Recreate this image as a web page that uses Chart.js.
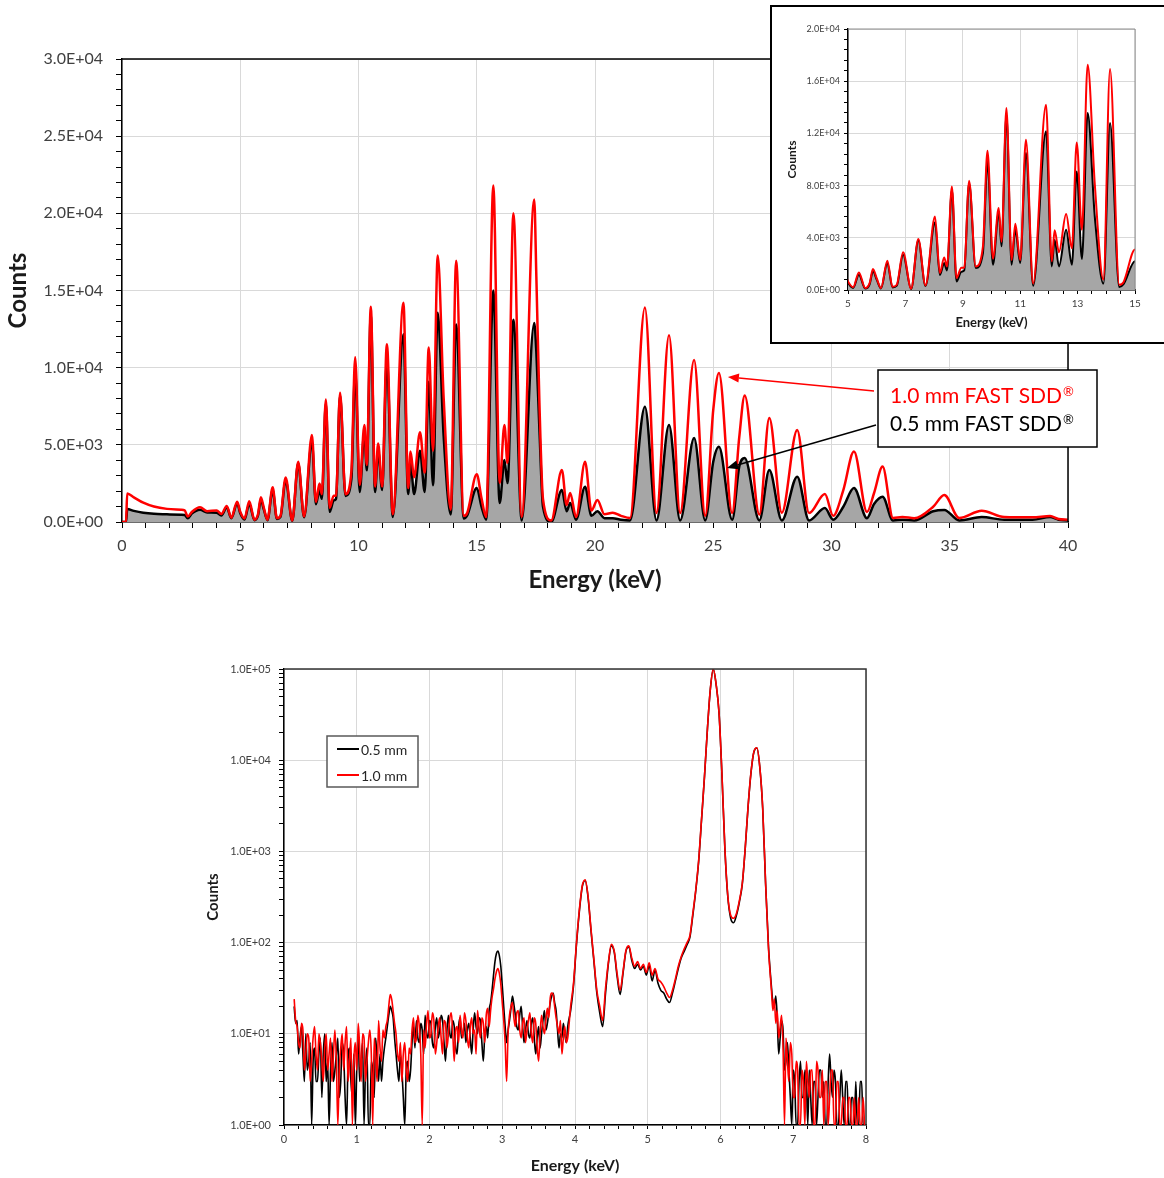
<!DOCTYPE html>
<html>
<head>
<meta charset="utf-8">
<title>FAST SDD spectra</title>
<script src="https://cdn.jsdelivr.net/npm/chart.js@4.4.1/dist/chart.umd.min.js"></script>
<style>
    body { margin: 0; width: 1164px; height: 1178px; overflow: hidden; background: #fff; }
    #mainWrap { position: absolute; left: 0; top: 0; }
    #insetWrap { position: absolute; left: 770px; top: 5px; border: 2px solid #000; background: #fff; }
    #logWrap { position: absolute; left: 0; top: 620px; }
    canvas { display: block; }
</style>
</head>
<body>
<div id="mainWrap"><canvas id="mainChart" width="1164" height="600"></canvas></div>
<div id="insetWrap"><canvas id="insetChart" width="400" height="335"></canvas></div>
<div id="logWrap"><canvas id="logChart" width="1164" height="558"></canvas></div>

<script>
// Spectrum 0-40 keV (linear plot and 5-15 keV inset)
const mainEnergy = [
    0, 0.17, 0.22, 0.5, 0.9, 1.35, 1.9, 2.5, 2.65, 2.78,
    2.95, 3.3, 3.6, 4.0, 4.2, 4.43, 4.62, 4.87, 5.0, 5.18,
    5.38, 5.6, 5.75, 5.87, 6.0, 6.15, 6.37, 6.55, 6.7, 6.92,
    7.2, 7.45, 7.7, 8.03, 8.2, 8.35, 8.45, 8.62, 8.78, 8.95,
    9.05, 9.22, 9.45, 9.7, 9.86, 10.05, 10.25, 10.35, 10.52, 10.7,
    10.83, 11.0, 11.2, 11.45, 11.9, 12.1, 12.2, 12.35, 12.6, 12.8,
    12.97, 13.15, 13.35, 13.6, 13.9, 14.13, 14.45, 14.6, 15.0, 15.2,
    15.4, 15.7, 15.97, 16.17, 16.3, 16.55, 16.9, 17.43, 17.52, 17.65,
    17.8, 18.15, 18.6, 18.8, 18.95, 19.2, 19.58, 19.85, 20.1, 20.4,
    20.75, 21.1, 21.48, 22.11, 22.6, 23.13, 23.6, 24.19, 24.66, 25.0,
    25.24, 25.8, 26.1, 26.33, 26.95, 27.37, 27.9, 28.55, 29.05, 29.72,
    30.07, 30.5, 30.95, 31.5, 31.8, 32.16, 32.6, 33.0, 33.5, 34.3,
    34.77, 35.4, 36.35, 37.3, 38.5, 39.24, 39.6, 40.0
];
const counts1mm = [
    0, 0, 1850, 1600, 1250, 1000, 850, 800, 760, 350,
    650, 960, 700, 750, 520, 1040, 280, 1320, 660, 220,
    1350, 150, 500, 1610, 900, 150, 2250, 250, 400, 2890,
    100, 3900, 350, 5640, 1300, 2500, 1800, 7940, 920, 1700,
    1700, 8380, 1800, 3300, 10680, 2400, 6280, 3700, 13950, 2300,
    5080, 2300, 11520, 500, 14200, 2200, 4570, 2900, 5820, 3200,
    11300, 4620, 17270, 8070, 800, 16930, 400, 600, 3100, 1550,
    320, 21800, 2520, 6290, 3820, 20000, 320, 20900, 15900, 7700,
    1500, 100, 3370, 1100, 1880, 320, 3910, 740, 1430, 500,
    600, 400, 260, 13900, 580, 12100, 580, 10500, 400, 7260,
    9660, 580, 5500, 8200, 480, 6740, 600, 5960, 580, 1810,
    400, 2070, 4560, 650, 1880, 3590, 260, 320, 250, 990,
    1750, 260, 730, 320, 300, 390, 200, 150
];
const counts05mm = [
    0, 0, 840, 720, 600, 530, 500, 470, 450, 240,
    550, 800, 620, 600, 420, 950, 250, 1200, 560, 160,
    1170, 120, 420, 1430, 800, 120, 2070, 200, 330, 2700,
    80, 3800, 300, 5190, 1150, 2070, 1500, 7690, 660, 1400,
    1500, 8200, 1690, 2800, 9860, 1940, 5900, 3350, 13440, 1940,
    4620, 2070, 10500, 330, 12160, 1810, 3860, 1810, 4620, 1940,
    9090, 2380, 13560, 5590, 490, 12800, 230, 450, 2200, 1000,
    150, 15000, 1230, 4020, 2520, 13100, 100, 12900, 11000, 6000,
    1000, 0, 2070, 700, 1230, 150, 2290, 400, 700, 250,
    250, 150, 100, 7470, 100, 6290, 100, 5440, 100, 3910,
    4880, 150, 3590, 4150, 100, 3370, 100, 2940, 100, 900,
    150, 990, 2200, 250, 1170, 1640, 100, 150, 100, 700,
    780, 100, 320, 150, 150, 320, 150, 100
];
const mainLabels = ['1.0 mm FAST SDD', '0.5 mm FAST SDD'];

// Low-energy spectrum 0-8 keV (log plot)
const logEnergy = [
    0.14, 0.16, 0.18, 0.20, 0.22, 0.24, 0.26, 0.28, 0.30, 0.32,
    0.34, 0.36, 0.38, 0.40, 0.42, 0.44, 0.46, 0.48, 0.50, 0.52,
    0.54, 0.56, 0.58, 0.60, 0.62, 0.64, 0.66, 0.68, 0.70, 0.72,
    0.74, 0.76, 0.78, 0.80, 0.82, 0.84, 0.86, 0.88, 0.90, 0.92,
    0.94, 0.96, 0.98, 1.00, 1.02, 1.04, 1.06, 1.08, 1.10, 1.12,
    1.14, 1.16, 1.18, 1.20, 1.22, 1.24, 1.26, 1.28, 1.30, 1.32,
    1.34, 1.36, 1.38, 1.40, 1.42, 1.44, 1.46, 1.48, 1.50, 1.52,
    1.54, 1.56, 1.58, 1.60, 1.62, 1.64, 1.66, 1.68, 1.70, 1.72,
    1.74, 1.76, 1.78, 1.80, 1.82, 1.84, 1.86, 1.88, 1.90, 1.92,
    1.94, 1.96, 1.98, 2.00, 2.02, 2.04, 2.06, 2.08, 2.10, 2.12,
    2.14, 2.16, 2.18, 2.20, 2.22, 2.24, 2.26, 2.28, 2.30, 2.32,
    2.34, 2.36, 2.38, 2.40, 2.42, 2.44, 2.46, 2.48, 2.50, 2.52,
    2.54, 2.56, 2.58, 2.60, 2.62, 2.64, 2.66, 2.68, 2.70, 2.72,
    2.74, 2.76, 2.78, 2.80, 2.82, 2.84, 2.86, 2.88, 2.90, 2.92,
    2.94, 2.96, 2.98, 3.00, 3.02, 3.04, 3.06, 3.08, 3.10, 3.12,
    3.14, 3.16, 3.18, 3.20, 3.22, 3.24, 3.26, 3.28, 3.30, 3.32,
    3.34, 3.36, 3.38, 3.40, 3.42, 3.44, 3.46, 3.48, 3.50, 3.52,
    3.54, 3.56, 3.58, 3.60, 3.62, 3.64, 3.66, 3.68, 3.70, 3.72,
    3.74, 3.76, 3.78, 3.80, 3.82, 3.84, 3.86, 3.88, 3.90,
    3.94, 3.98, 4.02, 4.06, 4.10,
    4.14, 4.18, 4.22, 4.26, 4.30, 4.34, 4.38, 4.42, 4.46, 4.50,
    4.54, 4.58, 4.62, 4.66, 4.70, 4.74, 4.78, 4.82, 4.86, 4.90,
    4.94, 4.98, 5.02, 5.06, 5.10, 5.14, 5.18, 5.22, 5.26, 5.30,
    5.34, 5.38, 5.42, 5.46, 5.50, 5.54, 5.58, 5.62, 5.66, 5.70,
    5.74, 5.78, 5.82, 5.86, 5.90, 5.94, 5.98, 6.02, 6.06, 6.10,
    6.14, 6.18, 6.22, 6.26, 6.30, 6.34, 6.38, 6.42, 6.46, 6.50,
    6.54, 6.58, 6.62, 6.66,
    6.70, 6.72, 6.74, 6.76, 6.78, 6.80, 6.82, 6.84, 6.86, 6.88,
    6.90, 6.92, 6.94, 6.96, 6.98, 7.00, 7.02, 7.04, 7.06, 7.08,
    7.10, 7.12, 7.14, 7.16, 7.18, 7.20, 7.22, 7.24, 7.26, 7.28,
    7.30, 7.32, 7.34, 7.36, 7.38, 7.40, 7.42, 7.44, 7.46, 7.48,
    7.50, 7.52, 7.54, 7.56, 7.58, 7.60, 7.62, 7.64, 7.66, 7.68,
    7.70, 7.72, 7.74, 7.76, 7.78, 7.80, 7.82, 7.84, 7.86, 7.88,
    7.90, 7.92, 7.94, 7.96, 7.98
];
const log1mm = [
    24, 14, 12, 8, 7, 13, 11, 4, 6, 10,
    9, 3, 5, 9, 12, 6, 4, 10, 8, 5,
    3, 7, 10, 4, 6, 9, 3, 6, 11, 5,
    1, 4, 7, 10, 4, 8, 12, 3, 5, 9,
    1, 5, 8, 4, 13, 7, 3, 10, 9, 3,
    5, 8, 11, 6, 1, 9, 6, 3, 14, 7,
    5, 11, 9, 12, 14, 20, 27, 24, 18, 13,
    10, 6, 5, 8, 3, 6, 8, 4, 3, 7,
    6, 11, 15, 8, 9, 16, 12, 6, 1, 11,
    7, 13, 18, 9, 10, 17, 14, 6, 8, 12,
    15, 9, 6, 14, 13, 7, 10, 15, 17, 10,
    5, 11, 12, 8, 16, 11, 9, 17, 14, 9,
    7, 12, 15, 10, 11, 6, 18, 12, 9, 15,
    13, 8, 16, 19, 12, 18, 25, 31, 40, 48,
    52, 46, 35, 22, 14, 8, 3, 10, 16, 20,
    22, 15, 12, 17, 18, 11, 9, 13, 15, 8,
    11, 14, 17, 10, 8, 15, 13, 7, 5, 10,
    16, 12, 10, 14, 19, 15, 25, 28, 27, 20,
    15, 12, 10, 14, 6, 9, 12, 8, 9,
    20, 36, 99, 230, 420,
    487, 320, 140, 65, 30, 20, 14, 32, 62, 96,
    80, 45, 30, 48, 82, 92, 68, 55, 62, 52,
    58, 47, 60, 44, 52, 40, 37, 33, 28, 25,
    30, 40, 55, 70, 85, 100, 120, 210, 380, 800,
    2300, 6700, 22000, 60000, 100000, 68000, 33000, 7000, 1100, 330,
    200, 185, 210, 290, 450, 1100, 3200, 7500, 12500, 13700,
    8500, 3000, 450, 85,
    30, 18, 24, 13, 18, 9, 12, 16, 7, 1,
    9, 5, 3, 8, 6, 2, 2, 5, 4, 1,
    1, 4, 3, 1, 5, 3, 2, 4, 4, 1,
    1, 5, 4, 2, 2, 4, 1, 3, 3, 1,
    2, 4, 4, 1, 1, 3, 3, 1, 1, 2,
    2, 1, 1, 2, 2, 1, 1, 2, 1, 1,
    2, 1, 1, 2, 1
];
const log05mm = [
    20, 13, 14, 6, 9, 12, 6, 3, 10, 4,
    5, 8, 1, 5, 7, 3, 3, 6, 9, 2,
    6, 10, 3, 5, 1, 4, 8, 3, 4, 6,
    9, 2, 3, 8, 6, 2, 1, 5, 7, 3,
    2, 6, 1, 4, 10, 3, 5, 8, 1, 4,
    7, 1, 1, 5, 4, 2, 9, 5, 3, 6,
    3, 5, 7, 9, 12, 16, 20, 18, 15, 9,
    6, 4, 3, 6, 4, 2, 1, 4, 5, 3,
    4, 8, 12, 7, 14, 9, 8, 13, 11, 6,
    16, 10, 9, 14, 13, 8, 7, 12, 15, 9,
    11, 16, 14, 8, 5, 11, 16, 10, 9, 14,
    12, 7, 6, 12, 15, 9, 10, 13, 8, 11,
    13, 9, 6, 11, 17, 12, 10, 15, 14, 8,
    5, 10, 12, 9, 18, 22, 30, 44, 62, 76,
    81, 72, 55, 34, 20, 12, 8, 11, 14, 19,
    26, 21, 16, 12, 11, 16, 20, 12, 8, 11,
    14, 10, 9, 13, 15, 9, 6, 9, 12, 7,
    10, 14, 18, 11, 13, 17, 22, 26, 28, 22,
    18, 11, 7, 10, 9, 13, 10, 8, 12,
    18, 34, 95, 220, 410,
    480, 310, 135, 62, 28, 17, 12, 28, 60, 92,
    78, 42, 27, 46, 80, 90, 64, 52, 58, 50,
    55, 44, 56, 38, 50, 36, 30, 28, 24, 22,
    28, 38, 52, 68, 80, 95, 115, 200, 370, 780,
    2250, 6600, 21800, 59500, 99500, 67500, 32800, 6900, 1080, 320,
    185, 165, 200, 280, 440, 1080, 3150, 7400, 12400, 13600,
    8400, 2950, 440, 90,
    33, 22, 20, 26, 15, 6, 9, 14, 11, 4,
    5, 8, 4, 2, 1, 4, 3, 1, 1, 3,
    5, 2, 2, 4, 3, 1, 4, 2, 1, 3,
    3, 1, 2, 4, 4, 2, 3, 1, 1, 3,
    6, 3, 2, 4, 3, 1, 1, 2, 4, 2,
    1, 3, 3, 1, 1, 2, 2, 1, 3, 1,
    1, 3, 3, 1, 1
];
const logLabels = ['1.0 mm', '0.5 mm'];

const RED = '#ff0000';
const BLACK = '#000000';
const FILL = '#a6a6a6';
const GRID = '#d9d9d9';
const TICK_TEXT = '#404040';
const TITLE_TEXT = '#1a1a1a';

Chart.defaults.font.family = 'Lato, "Open Sans", sans-serif';
Chart.defaults.animation = false;

const pts = (xs, ys) => xs.map((x, i) => ({ x, y: ys[i] }));
const isMult = (v, m) => Math.abs(v / m - Math.round(v / m)) < 1e-6;
const isPow10 = v => Math.abs(Math.log10(v) - Math.round(Math.log10(v))) < 1e-6;

// "3.0E+04" style labels
const sci = v => {
    if (v === 0) return '0.0E+00';
    const e = Math.floor(Math.log10(v) + 1e-9);
    const m = v / Math.pow(10, e);
    return m.toFixed(1) + 'E' + (e < 0 ? '-' : '+') + String(Math.abs(e)).padStart(2, '0');
};

const stepTicks = (min, max, step) => {
    const out = [];
    for (let v = min; v <= max + 1e-9; v += step) out.push({ value: Math.round(v * 1000) / 1000 });
    return out;
};

const logTicks = (min, max) => {
    const out = [];
    for (let p = min; p < max; p *= 10) {
        for (let k = 1; k < 10; k++) out.push({ value: p * k });
    }
    out.push({ value: max });
    return out;
};

// top and right border of the plot area
const framePlugin = {
    id: 'frame',
    afterDraw(chart, args, opts) {
        const { ctx, chartArea: a } = chart;
        ctx.save();
        ctx.strokeStyle = opts.color;
        ctx.lineWidth = opts.width;
        ctx.beginPath();
        ctx.moveTo(a.left, a.top);
        ctx.lineTo(a.right, a.top);
        ctx.lineTo(a.right, a.bottom);
        ctx.stroke();
        ctx.restore();
    }
};

const drawArrow = (ctx, x0, y0, x1, y1, color) => {
    const ang = Math.atan2(y1 - y0, x1 - x0);
    const len = 11, half = 4.5;
    ctx.strokeStyle = color;
    ctx.fillStyle = color;
    ctx.lineWidth = 1.5;
    ctx.beginPath();
    ctx.moveTo(x0, y0);
    ctx.lineTo(x1 - Math.cos(ang) * len, y1 - Math.sin(ang) * len);
    ctx.stroke();
    ctx.beginPath();
    ctx.moveTo(x1, y1);
    ctx.lineTo(x1 - Math.cos(ang) * len - Math.sin(ang) * half, y1 - Math.sin(ang) * len + Math.cos(ang) * half);
    ctx.lineTo(x1 - Math.cos(ang) * len + Math.sin(ang) * half, y1 - Math.sin(ang) * len - Math.cos(ang) * half);
    ctx.closePath();
    ctx.fill();
};

// boxed labels with arrows pointing at the 25 keV peaks
const calloutPlugin = {
    id: 'callout',
    afterDraw(chart, args, o) {
        const { ctx, scales: { x, y } } = chart;
        ctx.save();
        o.items.forEach(it => {
            const ds = chart.data.datasets[it.dataset];
            drawArrow(ctx, it.from[0], it.from[1], x.getPixelForValue(it.at[0]), y.getPixelForValue(it.at[1]), ds.borderColor);
        });
        ctx.fillStyle = '#fff';
        ctx.fillRect(o.box.x, o.box.y, o.box.w, o.box.h);
        ctx.strokeStyle = '#000';
        ctx.lineWidth = 1.5;
        ctx.strokeRect(o.box.x, o.box.y, o.box.w, o.box.h);
        ctx.textBaseline = 'alphabetic';
        ctx.textAlign = 'left';
        o.items.forEach(it => {
            const ds = chart.data.datasets[it.dataset];
            ctx.fillStyle = ds.borderColor;
            ctx.font = '21px Lato, sans-serif';
            ctx.fillText(ds.label, o.textX, it.baseline);
            const w = ctx.measureText(ds.label).width;
            ctx.font = '13px Lato, sans-serif';
            ctx.fillText('\u00AE', o.textX + w + 1, it.baseline - 7);
        });
        ctx.restore();
    }
};

// legend box inside the log plot
const boxLegendPlugin = {
    id: 'boxLegend',
    afterDraw(chart, args, o) {
        const { ctx } = chart;
        ctx.save();
        ctx.fillStyle = '#fff';
        ctx.fillRect(o.x, o.y, o.w, o.h);
        ctx.strokeStyle = '#595959';
        ctx.lineWidth = 1.5;
        ctx.strokeRect(o.x, o.y, o.w, o.h);
        ctx.font = '14px Lato, sans-serif';
        ctx.textBaseline = 'middle';
        o.order.forEach((idx, row) => {
            const ds = chart.data.datasets[idx];
            const ly = o.y + o.rowY[row];
            ctx.strokeStyle = ds.borderColor;
            ctx.lineWidth = 2;
            ctx.beginPath();
            ctx.moveTo(o.x + 10, ly);
            ctx.lineTo(o.x + 32, ly);
            ctx.stroke();
            ctx.fillStyle = '#262626';
            ctx.fillText(ds.label, o.x + 34, ly + 1);
        });
        ctx.restore();
    }
};

const tickFont = size => ({ size });
const titleFont = size => ({ size, weight: 'bold' });

const linearAxis = ({ min, max, step, major, grid, label, fit, fitKey, tickSize, tickLen, pad, title }) => ({
    type: 'linear',
    min, max,
    afterBuildTicks: s => { s.ticks = stepTicks(min, max, step); },
    afterFit: s => { s[fitKey] = fit; },
    ticks: {
        autoSkip: false, maxRotation: 0, padding: pad, color: TICK_TEXT, font: tickFont(tickSize),
        callback: v => (major(v) ? label(v) : '')
    },
    grid: {
        color: c => (c.tick && grid(c.tick.value) ? GRID : 'rgba(0,0,0,0)'),
        tickColor: '#000', tickLength: tickLen, lineWidth: 1
    },
    border: { color: '#000', width: 1.5 },
    title
});

const spectrumSets = (width) => [
    {
        label: mainLabels[0], data: pts(mainEnergy, counts1mm),
        borderColor: RED, borderWidth: width, pointRadius: 0, fill: false,
        cubicInterpolationMode: 'monotone'
    },
    {
        label: mainLabels[1], data: pts(mainEnergy, counts05mm),
        borderColor: BLACK, backgroundColor: FILL, borderWidth: width, pointRadius: 0, fill: 'origin',
        cubicInterpolationMode: 'monotone'
    }
];

// main 0-40 keV chart
new Chart(document.getElementById('mainChart'), {
    type: 'line',
    data: { datasets: spectrumSets(2.5) },
    options: {
        responsive: false,
        layout: { padding: { left: 0, top: 59, right: 96, bottom: 0 } },
        plugins: {
            legend: { display: false },
            tooltip: { enabled: false },
            frame: { color: '#000', width: 1.5 },
            callout: {
                box: { x: 878, y: 370, w: 219, h: 77 },
                textX: 890,
                items: [
                    { dataset: 0, baseline: 403, from: [874, 391], at: [25.62, 9400] },
                    { dataset: 1, baseline: 431, from: [876, 425], at: [25.58, 3500] }
                ]
            }
        },
        scales: {
            x: linearAxis({
                min: 0, max: 40, step: 1, major: v => isMult(v, 5), grid: v => isMult(v, 5),
                label: v => String(v), fit: 78, fitKey: 'height', tickSize: 16, tickLen: 6, pad: 8,
                title: { display: true, text: 'Energy (keV)', color: TITLE_TEXT, font: titleFont(24), padding: { top: 0, bottom: 5 } }
            }),
            y: linearAxis({
                min: 0, max: 30000, step: 1000, major: v => isMult(v, 5000), grid: v => isMult(v, 5000),
                label: sci, fit: 122, fitKey: 'width', tickSize: 16, tickLen: 6, pad: 13,
                title: { display: true, text: 'Counts', color: TITLE_TEXT, font: titleFont(24), padding: { top: 4, bottom: 0 } }
            })
        }
    },
    plugins: [framePlugin, calloutPlugin]
});

// inset 5-15 keV
new Chart(document.getElementById('insetChart'), {
    type: 'line',
    data: { datasets: spectrumSets(2) },
    options: {
        responsive: false,
        layout: { padding: { left: 0, top: 22, right: 37, bottom: 0 } },
        plugins: {
            legend: { display: false },
            tooltip: { enabled: false },
            frame: { color: '#8c8c8c', width: 1 }
        },
        scales: {
            x: linearAxis({
                min: 5, max: 15, step: 0.5, major: v => isMult(v - 5, 2), grid: v => isMult(v - 5, 2),
                label: v => String(v), fit: 52, fitKey: 'height', tickSize: 10, tickLen: 4, pad: 4,
                title: { display: true, text: 'Energy (keV)', color: TITLE_TEXT, font: titleFont(13), padding: { top: 0, bottom: 11 } }
            }),
            y: linearAxis({
                min: 0, max: 20000, step: 800, major: v => isMult(v, 4000), grid: v => isMult(v, 4000),
                label: sci, fit: 76, fitKey: 'width', tickSize: 9, tickLen: 4, pad: 4,
                title: { display: true, text: 'Counts', color: TITLE_TEXT, font: titleFont(12), padding: { top: 13, bottom: 0 } }
            })
        }
    },
    plugins: [framePlugin]
});

// log plot 0-8 keV
new Chart(document.getElementById('logChart'), {
    type: 'line',
    data: {
        datasets: [
            {
                label: logLabels[0], data: pts(logEnergy, log1mm),
                borderColor: RED, borderWidth: 1.6, pointRadius: 0, fill: false, cubicInterpolationMode: 'monotone'
            },
            {
                label: logLabels[1], data: pts(logEnergy, log05mm),
                borderColor: BLACK, borderWidth: 1.6, pointRadius: 0, fill: false, cubicInterpolationMode: 'monotone'
            }
        ]
    },
    options: {
        responsive: false,
        layout: { padding: { left: 195, top: 49, right: 298, bottom: 0 } },
        plugins: {
            legend: { display: false },
            tooltip: { enabled: false },
            frame: { color: '#333', width: 1.5 },
            boxLegend: { x: 327, y: 116, w: 91, h: 51, order: [1, 0], rowY: [13, 39] }
        },
        scales: {
            x: linearAxis({
                min: 0, max: 8, step: 0.2, major: v => isMult(v, 1), grid: v => isMult(v, 1),
                label: v => String(v), fit: 53, fitKey: 'height', tickSize: 11, tickLen: 4, pad: 4,
                title: { display: true, text: 'Energy (keV)', color: TITLE_TEXT, font: titleFont(16), padding: { top: 0, bottom: 3 } }
            }),
            y: {
                type: 'logarithmic',
                min: 1, max: 100000,
                afterBuildTicks: s => { s.ticks = logTicks(1, 100000); },
                afterFit: s => { s.width = 89; },
                ticks: {
                    autoSkip: false, padding: 8, color: TICK_TEXT, font: tickFont(11),
                    callback: v => (isPow10(v) ? sci(v) : '')
                },
                grid: {
                    color: c => (c.tick && isPow10(c.tick.value) ? GRID : 'rgba(0,0,0,0)'),
                    tickColor: '#000', tickLength: 5
                },
                border: { color: '#000', width: 1.5 },
                title: { display: true, text: 'Counts', color: TITLE_TEXT, font: titleFont(15), padding: { top: 9, bottom: 0 } }
            }
        }
    },
    plugins: [framePlugin, boxLegendPlugin]
});
</script>
</body>
</html>
